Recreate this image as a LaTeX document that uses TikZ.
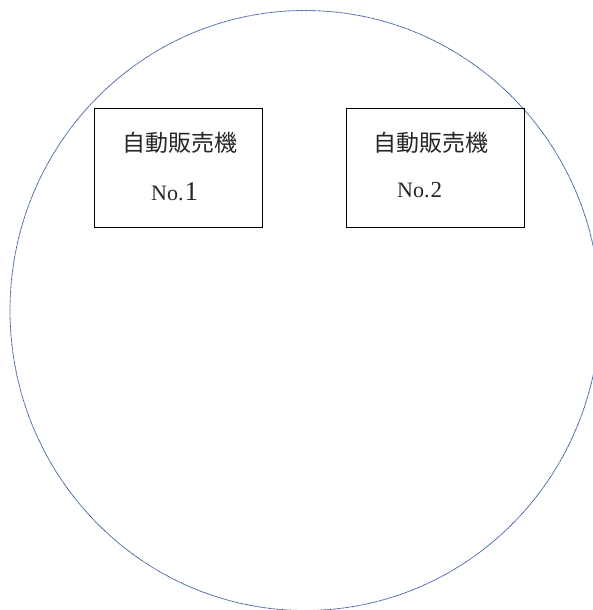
\documentclass[tikz,border=0pt]{standalone}
\usepackage{fontspec}
\newfontfamily\jp{Noto Sans CJK JP}
\newfontfamily\lserif{Liberation Serif}
\definecolor{ringblue}{RGB}{47,84,150}
\begin{document}
\begin{tikzpicture}[x=1pt,y=-1pt,
  box/.style={draw=black,line width=0.9pt,minimum height=119pt,inner sep=0pt},
  jlabel/.style={inner sep=0pt,font=\jp\fontsize{23}{23}\selectfont,text=black!85},
  nolabel/.style={inner sep=0pt,anchor=base west,font=\lserif\fontsize{22}{22}\selectfont,text=black!85},
  ring/.style={draw=ringblue,line width=0.8pt,dash pattern=on 0.8pt off 0.5pt}]
\clip (0,0) rectangle (593,610);
\fill[white] (0,0) rectangle (593,610);
\draw[ring] (305,310.5) ellipse [x radius=295pt, y radius=300pt];
\node[box,minimum width=168pt] (vm1) at (178,167.5) {};
\node[box,minimum width=178pt] (vm2) at (435,167.5) {};
\node[jlabel] (t1) at (179.5,143) {自動販売機};
\node[jlabel] (t2) at (431,143) {自動販売機};
\node[nolabel] (n1) at (151,200) {No.\hspace{1pt}{\fontsize{27}{27}\selectfont 1}};
\node[nolabel] (n2) at (397,197) {No.\hspace{1pt}{\fontsize{23}{23}\selectfont 2}};
\end{tikzpicture}
\end{document}
